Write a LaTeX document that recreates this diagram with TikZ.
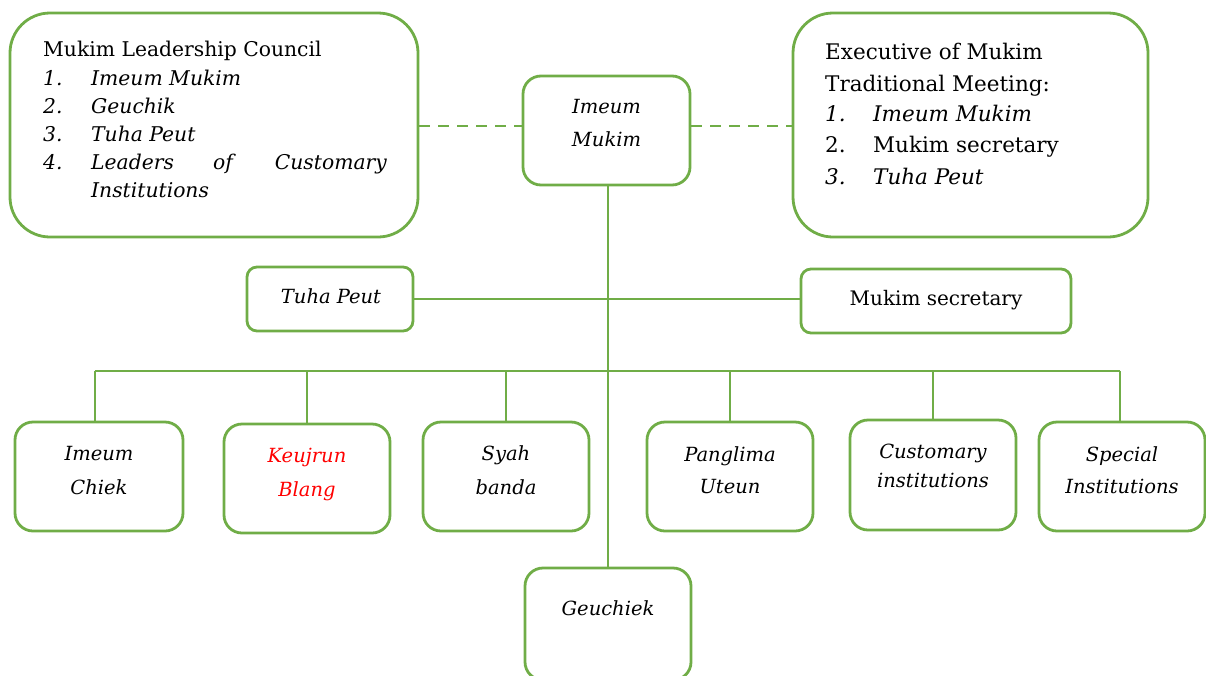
\documentclass[tikz,border=0pt]{standalone}
\usepackage{fontspec}
\setmainfont{DejaVu Serif}
\definecolor{grn}{HTML}{70AD47}
\begin{document}
\begin{tikzpicture}[x=1pt,y=-1pt,
  bigbox/.style={draw=grn, line width=2.8pt, rounded corners=40pt, inner sep=0pt},
  smallbox/.style={draw=grn, line width=2.8pt, rounded corners=18pt, inner sep=0pt},
  conn/.style={draw=grn, line width=2.6pt},
  dconn/.style={draw=grn, line width=2.6pt, dash pattern=on 11pt off 8pt},
  lt/.style={anchor=base west, inner sep=0pt, font=\fontsize{20.3}{28}\selectfont},
  rt/.style={anchor=base west, inner sep=0pt, font=\fontsize{21.5}{31}\selectfont},
  ctext/.style={anchor=base, inner sep=0pt, align=center, font=\fontsize{19.5}{33}\selectfont\itshape}]
\useasboundingbox (0,0) rectangle (1206,675);
% big boxes
\node[bigbox, minimum width=408pt, minimum height=224pt] (lc) at (214,125) {};
\node[bigbox, minimum width=355pt, minimum height=224pt] (ex) at (970.5,125) {};
\node[smallbox, minimum width=167pt, minimum height=109pt] (im) at (606.5,130.5) {};
% middle
\node[smallbox, rounded corners=10pt, minimum width=166pt, minimum height=64pt] (tp) at (330,299) {};
\node[smallbox, rounded corners=10pt, minimum width=270pt, minimum height=64pt] (ms) at (936,301) {};
% bottom
\node[smallbox, minimum width=168pt, minimum height=109pt] (ic) at (99,476.5) {};
\node[smallbox, minimum width=166pt, minimum height=109pt] (kb) at (307,478.5) {};
\node[smallbox, minimum width=166pt, minimum height=109pt] (sb) at (506,476.5) {};
\node[smallbox, minimum width=166pt, minimum height=109pt] (pu) at (730,476.5) {};
\node[smallbox, minimum width=166pt, minimum height=110pt] (ci) at (933,475) {};
\node[smallbox, minimum width=166pt, minimum height=109pt] (si) at (1122,476.5) {};
\node[smallbox, minimum width=166pt, minimum height=112pt] (ge) at (608,624) {};
% connectors
\coordinate (busL) at (95,371);
\coordinate (busR) at (1120,371);
\draw[dconn] (lc.east |- 0,126) -- (im.west |- 0,126);
\draw[dconn] (im.east |- 0,126) -- (ex.west |- 0,126);
\draw[conn] (ge.north) -- (ge.north |- im.south);
\draw[conn] (tp.east) -- (ms.west |- tp.east);
\draw[conn] (busL) -- (busR);
\draw[conn] (ic.north -| busL) -- (busL);
\draw[conn] (kb.north) -- (kb.north |- busL);
\draw[conn] (sb.north) -- (sb.north |- busL);
\draw[conn] (pu.north) -- (pu.north |- busL);
\draw[conn] (ci.north) -- (ci.north |- busL);
\draw[conn] (si.north -| busR) -- (busR);
% left box text
\node[lt] (lc0) at (43,56) {Mukim Leadership Council};
\node[lt] (lc1n) at (43,85) {\itshape 1.};
\node[lt] (lc1) at (91,85) {\itshape Imeum Mukim};
\node[lt] (lc2n) at (43,113) {\itshape 2.};
\node[lt] (lc2) at (91,113) {\itshape Geuchik};
\node[lt] (lc3n) at (43,141) {\itshape 3.};
\node[lt] (lc3) at (91,141) {\itshape Tuha Peut};
\node[lt] (lc4n) at (43,169) {\itshape 4.};
\node[lt] (lc4a) at (91,169) {\itshape Leaders};
\node[lt] (lc4b) at (213,169) {\itshape of};
\node[lt, anchor=base east] (lc4c) at (387,169) {\itshape Customary};
\node[lt] (lc4d) at (91,197) {\itshape Institutions};
% right box text
\node[rt] (ex0) at (825,59) {Executive of Mukim};
\node[rt] (ex1) at (825,91) {Traditional Meeting:};
\node[rt] (ex2n) at (825,121) {\itshape 1.};
\node[rt] (ex2) at (873,121) {\itshape Imeum Mukim};
\node[rt] (ex3n) at (825,152) {2.};
\node[rt] (ex3) at (873,152) {Mukim secretary};
\node[rt] (ex4n) at (825,184) {\itshape 3.};
\node[rt] (ex4) at (873,184) {\itshape Tuha Peut};
% center texts (base = baseline of last line)
\node[ctext] (imt) at (606.5,146) {Imeum\\Mukim};
\node[ctext, font=\fontsize{19.5}{28}\selectfont\itshape] (tpt) at (331,303) {Tuha Peut};
\node[ctext, font=\fontsize{20}{28}\selectfont] (mst) at (936,305) {Mukim secretary};
\node[ctext, font=\fontsize{19.5}{34}\selectfont\itshape] (ict) at (99,494) {Imeum\\Chiek};
\node[ctext, font=\fontsize{19.5}{34}\selectfont\itshape, text=red] (kbt) at (307,496) {Keujrun\\Blang};
\node[ctext, font=\fontsize{19.5}{34}\selectfont\itshape] (sbt) at (506,494) {Syah\\banda};
\node[ctext, font=\fontsize{19.5}{32}\selectfont\itshape] (put) at (730,493) {Panglima\\Uteun};
\node[ctext, font=\fontsize{19.5}{29}\selectfont\itshape] (cit) at (933,487) {Customary\\institutions};
\node[ctext, font=\fontsize{19.5}{32}\selectfont\itshape] (sit) at (1122,493) {Special\\Institutions};
\node[ctext] (get) at (608,615) {Geuchiek};
\end{tikzpicture}
\end{document}
